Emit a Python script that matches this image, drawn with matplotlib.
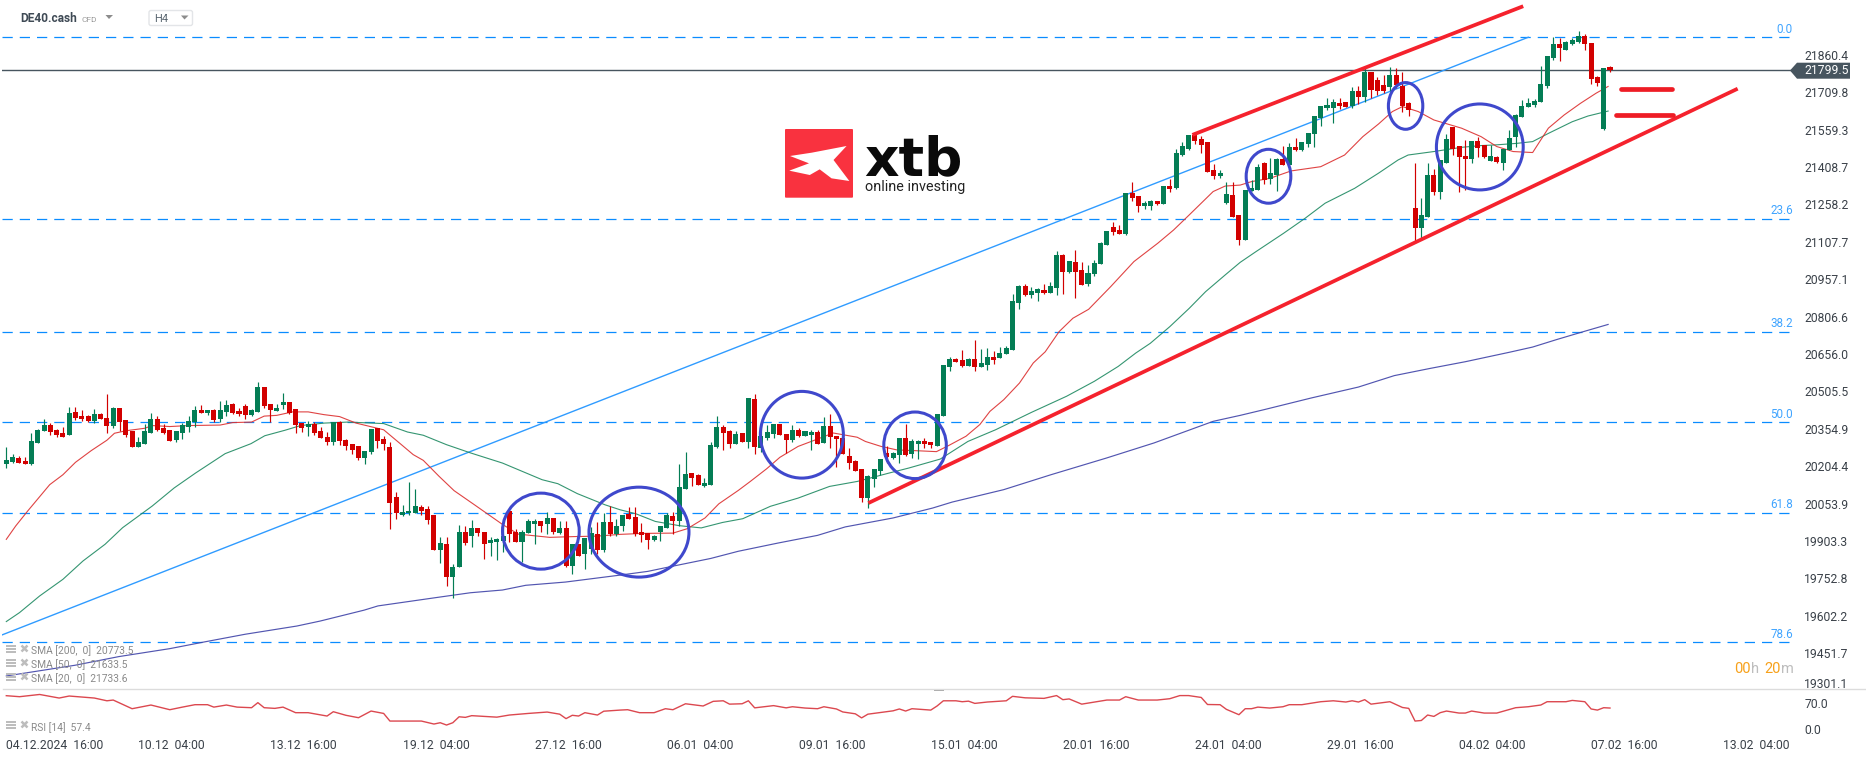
import matplotlib
matplotlib.use("Agg")
import matplotlib.pyplot as plt
from matplotlib.patches import Ellipse, Polygon, Rectangle, FancyBboxPatch

plt.rcParams['font.family'] = ['Roboto', 'DejaVu Sans']

#----------------------------------------data----------------------------------------
opens = [20212,20221,20237,20225,20213,20298,20346,20370,20350,20338,
         20330,20423,20406,20408,20386,20414,20398,20366,20439,20390,
         20346,20282,20294,20338,20394,20358,20350,20310,20338,20362,
         20382,20431,20419,20431,20394,20423,20455,20427,20447,20411,
         20423,20523,20455,20427,20451,20463,20435,20378,20362,20374,
         20346,20322,20302,20382,20310,20294,20286,20237,20262,20358,
         20314,20281,20080,20008,20015,20017,20040,20032,20008,19867,
         19891,19758,19799,19939,19923,19956,19939,19895,19899,19903,
         20024,19939,19899,19935,19972,19984,19972,19996,19935,19956,
         19803,19891,19851,19870,19931,19867,19980,19931,19964,20012,
         20000,19939,19935,19907,19939,19956,20004,19984,20113,20177,
         20169,20125,20129,20282,20362,20346,20294,20338,20302,20475,
         20278,20318,20334,20374,20334,20310,20350,20326,20330,20342,
         20298,20366,20326,20318,20245,20225,20193,20076,20153,20185,
         20257,20237,20249,20318,20253,20294,20306,20302,20286,20406,
         20604,20636,20632,20608,20636,20604,20612,20644,20640,20655,
         20672,20861,20930,20894,20902,20914,20902,20922,21055,20986,
         21026,20994,20938,20978,21018,21095,21167,21155,21139,21304,
         21292,21252,21252,21272,21260,21332,21324,21457,21481,21538,
         21522,21510,21397,21373,21264,21296,21215,21115,21312,21316,
         21425,21361,21377,21441,21417,21489,21477,21502,21542,21606,
         21647,21647,21667,21671,21655,21715,21691,21791,21759,21739,
         21731,21779,21735,21667,21244,21163,21208,21377,21308,21425,
         21570,21493,21453,21441,21514,21497,21433,21449,21426,21477,
         21530,21610,21651,21659,21671,21735,21848,21904,21880,21904,
         21912,21936,21908,21771,21562,21812]

highs = [20280,20253,20244,20240,20337,20354,20394,20378,20354,20362,
         20443,20443,20431,20410,20435,20418,20495,20443,20439,20390,
         20346,20322,20374,20419,20406,20374,20350,20346,20378,20406,
         20447,20451,20431,20435,20467,20471,20459,20439,20455,20435,
         20543,20523,20455,20455,20499,20463,20435,20378,20386,20382,
         20362,20342,20382,20385,20314,20294,20286,20265,20354,20358,
         20326,20301,20100,20048,20141,20113,20048,20044,20008,19920,
         19919,19811,19968,19964,19988,19956,19939,19919,19915,19964,
         20024,19952,19947,19992,19992,19984,20020,19996,19984,19984,
         19891,19891,19915,19960,19980,20017,20044,19990,20008,20040,
         20040,19976,19935,19927,19964,20016,20020,20213,20262,20177,
         20173,20157,20302,20406,20370,20350,20346,20338,20479,20495,
         20380,20370,20374,20374,20334,20370,20358,20346,20350,20350,
         20402,20414,20326,20318,20278,20229,20193,20169,20193,20233,
         20286,20261,20318,20374,20314,20310,20318,20302,20414,20612,
         20644,20640,20672,20640,20712,20675,20680,20670,20683,20688,
         20897,20934,20938,20926,20922,20938,20946,21071,21059,21030,
         21075,21026,21014,21034,21107,21151,21187,21175,21304,21348,
         21292,21272,21276,21272,21332,21360,21481,21510,21538,21538,
         21534,21510,21421,21397,21348,21348,21215,21316,21357,21421,
         21429,21445,21445,21493,21505,21526,21510,21546,21614,21655,
         21687,21683,21687,21671,21731,21735,21808,21791,21771,21779,
         21811,21808,21792,21671,21426,21284,21425,21401,21437,21542,
         21570,21493,21518,21514,21530,21497,21497,21453,21481,21558,
         21622,21679,21687,21683,21816,21856,21932,21928,21916,21928,
         21956,21944,21908,21775,21808,21816]

lows = [20197,20217,20217,20213,20209,20296,20346,20331,20323,20323,
        20330,20392,20386,20384,20378,20394,20338,20358,20346,20322,
        20282,20282,20294,20338,20346,20334,20306,20302,20314,20342,
        20362,20419,20411,20382,20382,20407,20415,20407,20394,20407,
        20423,20439,20382,20427,20435,20415,20338,20342,20326,20330,
        20318,20290,20290,20290,20270,20254,20229,20213,20253,20278,
        20270,19952,19992,20003,20008,20017,20008,19972,19867,19815,
        19722,19674,19799,19887,19879,19923,19831,19843,19827,19859,
        19899,19899,19819,19935,19891,19939,19931,19931,19931,19799,
        19770,19843,19790,19850,19850,19860,19925,19925,19943,19992,
        19925,19899,19871,19903,19903,19956,19931,19964,20113,20125,
        20129,20121,20129,20278,20270,20278,20294,20302,20278,20254,
        20260,20310,20318,20330,20257,20302,20322,20326,20270,20294,
        20298,20278,20201,20253,20193,20185,20060,20036,20121,20169,
        20217,20233,20217,20245,20237,20233,20278,20278,20286,20406,
        20588,20624,20604,20608,20588,20604,20592,20616,20640,20655,
        20672,20837,20890,20881,20869,20898,20902,20894,20898,20982,
        20881,20934,20930,20970,21018,21095,21135,21139,21135,21272,
        21228,21240,21236,21256,21260,21308,21320,21453,21477,21501,
        21465,21389,21361,21365,21260,21207,21095,21115,21312,21316,
        21341,21341,21312,21417,21417,21473,21473,21490,21490,21574,
        21638,21586,21642,21651,21647,21663,21671,21687,21699,21705,
        21715,21727,21630,21614,21103,21115,21208,21296,21280,21425,
        21457,21308,21316,21425,21449,21445,21433,21425,21397,21477,
        21489,21610,21651,21651,21671,21727,21840,21836,21880,21900,
        21908,21880,21743,21735,21558,21791]

closes = [20229,20241,20218,20213,20306,20350,20370,20342,20330,20323,
          20419,20398,20394,20386,20414,20394,20366,20439,20382,20330,
          20282,20302,20346,20394,20350,20338,20306,20346,20370,20386,
          20431,20419,20431,20390,20431,20451,20419,20415,20411,20431,
          20523,20447,20431,20439,20463,20419,20370,20358,20374,20338,
          20318,20302,20382,20306,20286,20270,20237,20265,20354,20306,
          20294,20056,20015,20020,20024,20044,20024,19988,19867,19895,
          19758,19799,19939,19895,19956,19935,19891,19907,19911,19923,
          19931,19899,19939,19984,19984,19964,19996,19939,19956,19803,
          19891,19843,19915,19935,19867,19980,19931,19964,20008,19992,
          19931,19927,19907,19923,19964,20008,19984,20121,20173,20157,
          20129,20137,20290,20362,20338,20294,20334,20302,20479,20282,
          20325,20342,20374,20330,20310,20350,20326,20346,20342,20294,
          20366,20322,20314,20253,20217,20185,20076,20165,20193,20233,
          20241,20257,20318,20249,20306,20306,20294,20290,20414,20612,
          20636,20624,20608,20636,20604,20620,20644,20632,20660,20681,
          20869,20930,20894,20910,20918,20902,20930,21055,20986,21030,
          20986,20934,20982,21022,21103,21151,21147,21139,21304,21284,
          21252,21264,21272,21260,21332,21320,21465,21493,21538,21514,
          21498,21389,21373,21385,21300,21207,21115,21316,21325,21409,
          21357,21385,21441,21417,21489,21477,21510,21546,21614,21655,
          21659,21671,21655,21651,21715,21691,21791,21719,21715,21715,
          21779,21739,21655,21638,21163,21216,21377,21308,21437,21522,
          21481,21449,21441,21514,21486,21449,21453,21429,21481,21526,
          21618,21655,21667,21675,21743,21856,21904,21888,21912,21920,
          21936,21904,21763,21747,21808,21798]

#SMA values read every few candles
sma20_x = [0,1.5,3.4,6.9,9,11,13.5,16,17.2,19,22,23.2,26,29,34,36,39,41,43,45.5,48,50.5,53,55.6,60,62.5,64.7,66.3,68.8,71.2,74.5,78.9,81.4,86.4,90.2,94,97.6,
           101.4,106,108.3,111.1,113.3,116.4,118.3,120.9,123,125.9,128.4,131.5,135.3,136.6,139.1,141.6,145.4,147.9,149.8,152.6,154.8,156.4,158.6,161.1,163.3,165.2,
           167.4,169.6,172.1,175.6,179.3,183.1,185.6,188.1,191.9,193.8,196.2,198,200.9,204.3,209,212.8,215.7,218.2,220.4,222,224.5,227,231.4,234.5,237,239.6,242.7,245.2,247.7,250.3,252.8,254.7]
sma20_y = [19910,19964,20024,20130,20170,20220,20267,20309,20337,20347,20357,20368,20364,20368,20370,20380,20382,20406,20409,20423,20423,20412,20404,20378,20351,20298,20251,20228,20164,20106,20048,19970,19931,19918,19921,19923,19930,
           19934,19935,19953,19996,20053,20107,20143,20194,20240,20284,20308,20338,20321,20304,20284,20270,20266,20263,20287,20325,20372,20425,20472,20539,20620,20665,
           20746,20800,20836,20927,21028,21102,21155,21216,21310,21332,21336,21350,21363,21393,21410,21457,21531,21582,21632,21652,21632,21598,21565,21531,21491,21471,21467,21565,21618,21665,21706,21733]

sma50_x = [0,2.1,5.3,9,12.2,15.7,18.5,23.2,26.7,30.1,34.8,38.9,41.1,44.3,46.8,50.6,54.3,60,63.8,66.3,70,73.8,78.9,82,85.2,87.7,90.8,95.2,97.6,
           100.1,103.2,107,110.5,113.9,117.1,121.5,125.9,130.9,135.3,140.4,143.5,148.5,152.9,157.3,163,168.6,173,176.8,179.6,181.9,185,188.1,190.7,193.8,196.2,
           198.7,203.1,206.5,209.7,214.4,218.2,221.3,222.9,227,231.4,234.5,237,240.2,242.7,245.2,249,251.5,254.7]
sma50_y = [19579,19615,19682,19749,19823,19890,19957,20044,20117,20177,20255,20295,20327,20349,20368,20378,20382,20376,20342,20329,20291,20258,20217,20184,20150,20134,20094,20049,20029,
           20013,19982,19965,19956,19978,19993,20043,20076,20123,20143,20177,20197,20233,20304,20351,20421,20486,20546,20606,20660,20699,20766,20840,20907,20974,21025,
           21068,21142,21202,21263,21323,21384,21437,21457,21471,21488,21495,21498,21504,21511,21544,21591,21614,21634]

sma200_x = [0,10.9,17.9,26,31.7,38,46.2,49.9,56.9,59.1,68.2,73.8,78.9,82.6,88.9,97.6,102,105.8,112,116.4,122.7,129,133.4,141,147.3,150.4,158.6,166.1,174.9,182.5,191.9,196.2,
            200,207.5,215,220.7,226.4,232,239,242.7,246.5,250.9,254.7]
sma200_y = [19360,19403,19438,19470,19498,19528,19561,19581,19625,19642,19675,19695,19706,19725,19738,19766,19781,19801,19833,19862,19895,19926,19960,19996,20036,20060,20110,20170,20237,20298,20385,20409,
            20432,20479,20523,20569,20598,20625,20663,20684,20714,20747,20775]

rsi_x = [0,2.1,5.3,8.4,10,14,16,17,20,23,26,28,30,32,33,35,36.7,39,40,41,42.7,44,46,48,51,52,54,56,58,60,61,66,68,69,70,71,72,73,74,78,80,83,86,88,89,90,91,92,94,95,97.6,
         98.8,100.7,103,104.8,106,108,110.8,112.4,114,115,117,118,119,122,124,125,127,129,130,132,133,135,136,137,141,142,143,144,147,148,149,151,152,153,154,156,159,160,162,165,167,168,169,171,175,177,178,180,183,185,186.6,188,190,191,193,194,196,
         197,198,199,200.9,203,204,206,209,211,213,214,215,216,217,220,222,223,224,225,226,227,228,229,231,232,233,235,237,240,242,244,245,248,249,251,252,253,254,255]
rsi_y = [89.7,87,93,83.4,88.8,83.4,76,78,54.7,64.6,52,59,65.5,65.5,59,64.6,59,57.4,71,57.4,55.6,59,44,44,35,46.6,37,30.5,48.4,42,21.5,21.5,13.5,17,10.8,17,33,31.4,36,32,37.7,42,45.7,40,28,37,35,44,37.7,48,51,
         52,44,44,54.7,52,68,62,74.5,76,67,68,76,57,63,57,60,56.5,54.7,60,54,46,41,30,40,49,54,48.4,54.7,51,62,76,76,73.5,75,69,72.7,76,88,84,82.5,90,79,81,67,78,78,87,78,78,81.6,90,90,85,66,65.5,53,38.6,
         54.7,54.7,59,56.5,60,65.5,65.5,73.5,76,72.7,76,72.7,79,67,73.5,58,55.6,21.5,23,37.7,34,44,48.4,43,43,48.4,43,43,57.4,60,64.6,73.5,73.5,77,73.5,54,51,57.4,56.5]

fib_levels = [0.0, 23.6, 38.2, 50.0, 61.8, 78.6]
fib_prices = [21931, 21200, 20746, 20381, 20018, 19495]

price_ticks = [21860.4,21709.8,21559.3,21408.7,21258.2,21107.7,20957.1,20806.6,20656.0,
               20505.5,20354.9,20204.4,20053.9,19903.3,19752.8,19602.2,19451.7,19301.1]
rsi_ticks = [70.0, 0.0]
date_ticks = [0,21,42,63,84,105,126,147,168,189,210,231,252,273]
date_labels = ['04.12.2024  16:00','10.12  04:00','13.12  16:00','19.12  04:00','27.12  16:00','06.01  04:00','09.01  16:00',
               '15.01  04:00','20.01  16:00','24.01  04:00','29.01  16:00','04.02  04:00','07.02  16:00','13.02  04:00']
last_price = 21799.5
legend_rows = ['SMA [200,  0]  20773.5','SMA [50,  0]  21633.5','SMA [20,  0]  21733.6']

#trend lines and drawn marks (candle index, price)
fib_line = ([-0.7, 242], [19525, 21931])
channel_low = ([137.07, 275.3], [20056, 21724])
channel_high = ([188.6, 241.2], [21538, 22056])
target_hi = ([256.8, 264.8], [21723, 21723])
target_lo = ([256, 265], [21617, 21617])
#centre x, centre y, width, height
circles = [(85,19943,12.2,306),(100.6,19939,15.9,362),(126.5,20331,13.2,349),(144.5,20288.5,9.94,268),
           (200.7,21371.5,7.1,217),(222.5,21654.6,5.47,188),(234.3,21489.5,13.8,346)]

#----------------------------------------figure----------------------------------------
W, H = 1866, 759
green, red = '#047d55', '#d20000'
fib_col = '#0a8cff'
fig = plt.figure(figsize=(W/100, H/100), dpi=100, facecolor='white')

def area(x0, y0, x1, y1):
    return [x0/W, 1-y1/H, (x1-x0)/W, (y1-y0)/H]

ax = fig.add_axes(area(2, 0, 1793, 690.6))
ax_rsi = fig.add_axes(area(2, 690.6, 1793, 735))
xlim = ((2-6.3)/6.289, (1793-6.3)/6.289)
ax.set_xlim(xlim)
ax.set_ylim(19301.1, 22081)
ax_rsi.set_xlim(xlim)
ax_rsi.set_ylim(-16, 103.4)

for a in (ax, ax_rsi):
    for s in a.spines.values():
        s.set_visible(False)
    a.yaxis.tick_right()
    a.tick_params(axis='both', length=0, labelsize=8.7, labelcolor='#3a4149', pad=8)
    a.set_facecolor('none')

#fib levels
for lev, p in zip(fib_levels, fib_prices):
    ax.axhline(p, color=fib_col, lw=0.9, dashes=(8.2, 5.6), zorder=1)
    ax.annotate('%.1f' % lev, xy=(1, p), xycoords=('axes fraction', 'data'), xytext=(0, 5.8),
                textcoords='offset points', ha='right', va='center', fontsize=8.4, color='#3fa4ff')
ax.axhline(last_price, color='#47555f', lw=1.0, zorder=1)
ax.plot(*fib_line, color='#2f9bff', lw=1.0, zorder=2)

#moving averages
ax.plot(sma200_x, sma200_y, color='#3f43a8', lw=0.85, alpha=0.9, zorder=2)
ax.plot(sma50_x, sma50_y, color='#1f8a62', lw=0.8, alpha=0.9, zorder=2)
ax.plot(sma20_x, sma20_y, color='#dc2f2f', lw=0.8, alpha=0.9, zorder=2)

#candles
x = list(range(len(opens)))
cols = [green if c >= o else red for o, c in zip(opens, closes)]
ax.vlines(x, lows, highs, colors=cols, lw=0.85, zorder=3)
ax.bar(x, [abs(c-o) for o, c in zip(opens, closes)], bottom=[min(o, c) for o, c in zip(opens, closes)],
       width=0.8, color=cols, linewidth=0, zorder=3)

#drawn marks
for seg in (channel_low, channel_high):
    ax.plot(*seg, color='#f5222d', lw=2.7, solid_capstyle='butt', zorder=5)
for seg in (target_hi, target_lo):
    ax.plot(*seg, color='#ee1c25', lw=3.4, solid_capstyle='round', zorder=5)
for cx, cy, w, h in circles:
    ax.add_patch(Ellipse((cx, cy), w, h, fill=False, edgecolor='#3f48cc', lw=2.2, zorder=6))

ax.set_xticks([])
ax.set_yticks(price_ticks)
ax.set_yticklabels(['%.1f' % p for p in price_ticks])
ax.get_yticklabels()[-1].set_va('bottom')

#rsi
ax_rsi.plot(rsi_x, rsi_y, color='#d8343c', lw=1.0, alpha=0.9)
ax_rsi.set_yticks(rsi_ticks)
ax_rsi.set_yticklabels(['%.1f' % r for r in rsi_ticks])
ax_rsi.set_xticks(date_ticks)
ax_rsi.set_xticklabels(date_labels, ha='left')
ax_rsi.tick_params(axis='x', pad=3)

#overlay in pixels: header, logo, legend, tag
ov = fig.add_axes([0, 0, 1, 1], zorder=10)
ov.set_xlim(0, W)
ov.set_ylim(H, 0)
ov.axis('off')
ov.patch.set_alpha(0)

ov.plot([3, W], [689.3, 689.3], color='#dcdcdc', lw=1.0)
ov.add_patch(Rectangle((934, 689), 9.5, 2, color='#a5a5a5', lw=0))

ov.text(20, 19, 'DE40.cash', fontsize=8.6, fontweight='bold', color='#3f4a55', va='center')
ov.text(82, 19.5, 'CFD', fontsize=6, color='#9a9a9a', va='center')
ov.add_patch(Polygon([(105.5, 15), (113, 15), (109, 19)], color='#8c8c8c', lw=0))
ov.add_patch(FancyBboxPatch((149, 10.5), 43.5, 15, boxstyle='round,pad=0,rounding_size=2', fc='white', ec='#e3e5e8', lw=1))
ov.text(154, 19.5, 'H4', fontsize=8, color='#5a6670', va='center')
ov.add_patch(Polygon([(181, 15.5), (188.5, 15.5), (184.5, 19.5)], color='#8c8c8c', lw=0))

#xtb logo
ov.add_patch(FancyBboxPatch((785, 129), 68, 68.7, boxstyle='round,pad=0,rounding_size=1', fc='#f9323f', ec='none'))
star = [(430, 168), (485, 158), (573, 138), (540, 180), (580, 243), (535, 235), (505, 208), (480, 225), (428, 212), (478, 190)]
ov.add_patch(Polygon([(620+a/2.529, 100+b/3) for a, b in star], fc='white', ec='none'))
ov.text(864, 175, 'xtb', fontsize=38.5, fontweight='bold', family='DejaVu Sans', color='#0a0a0a', va='baseline')
ov.text(865, 191, 'online investing', fontsize=10.4, color='#222222', va='baseline')

#legend rows
def legend_icon(yc):
    for dy in (-4, -1, 2):
        ov.add_patch(Rectangle((6, yc+dy), 10, 2, color='#bdbdbd', lw=0))
    ov.plot([24], [yc-1], marker='x', ms=5, mew=1.8, color='#bdbdbd')

for txt, yc in zip(legend_rows, (650.7, 664.7, 678.7)):
    legend_icon(yc-2)
    ov.text(31, yc, txt, fontsize=7.4, color='#8a8a8a', va='center')
legend_icon(725)
ov.text(31, 727.7, 'RSI [14]  57.4', fontsize=7.4, color='#8a8a8a', va='center')

#last price tag
ov.add_patch(Polygon([(1790, 70.5), (1797, 62.7), (1850, 62.7), (1850, 78.7), (1797, 78.7)], color='#47555f', lw=0))
ov.text(1804, 71, '%.1f' % last_price, fontsize=8.7, color='white', va='center')

#countdown
for xp, s, c in ((1734, '00', '#f7a11a'), (1751, 'h', '#bdbdbd'), (1764, '20', '#f7a11a'), (1780.5, 'm', '#bdbdbd')):
    ov.text(xp, 669, s, fontsize=10.5, color=c, va='center')

fig.savefig('out.png', dpi=100, facecolor='white')
